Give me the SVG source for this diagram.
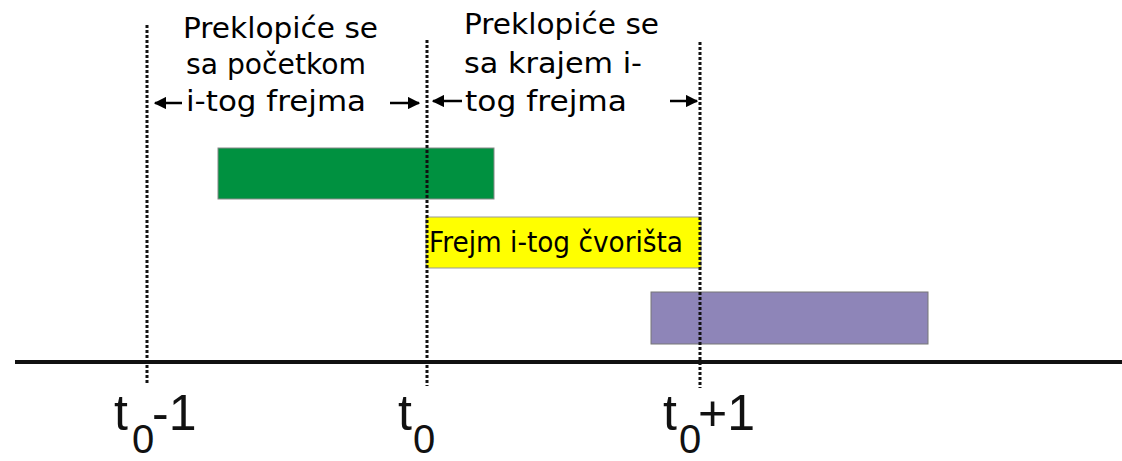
<svg xmlns="http://www.w3.org/2000/svg" width="1122" height="461" viewBox="0 0 1122 461">
<defs>
<style>
.lbl{font-family:"DejaVu Sans","Liberation Sans",sans-serif;font-size:28px;fill:#000}
.ax{font-family:"Liberation Sans","DejaVu Sans",sans-serif;font-size:50px;fill:#111}
.sub{font-family:"Liberation Sans","DejaVu Sans",sans-serif;font-size:40px;fill:#111}
.dot{stroke:#111;stroke-width:3;stroke-dasharray:3 2;fill:none}
.arr{stroke:#000;stroke-width:2.5;fill:none}
</style>
<marker id="ah" viewBox="0 0 10 10" refX="9" refY="5" markerWidth="5" markerHeight="5" orient="auto-start-reverse" markerUnits="strokeWidth">
<path d="M0,0 L10,5 L0,10 z" fill="#000"/>
</marker>
</defs>
<rect width="1122" height="461" fill="#fff"/>
<g id="axis">
<line x1="15" y1="362" x2="1122" y2="362" stroke="#111" stroke-width="4"/>
</g>
<g id="frame-prev">
<rect x="218" y="148" width="276" height="51" fill="#009140" stroke="#888" stroke-width="1"/>
</g>
<g id="frame-i">
<rect x="426" y="217" width="275" height="51" fill="#ffff00" stroke="#999" stroke-width="1"/>
<text class="lbl" x="429" y="252" font-size="22" textLength="254" lengthAdjust="spacingAndGlyphs">Frejm i-tog čvorišta</text>
</g>
<g id="frame-next">
<rect x="651" y="292" width="277" height="52" fill="#8e85b8" stroke="#777" stroke-width="1"/>
</g>
<g id="connectors">
<line class="dot" x1="147" y1="25" x2="147" y2="383"/>
<line class="dot" x1="427" y1="40" x2="427" y2="386"/>
<line class="dot" x1="700" y1="42" x2="700" y2="388"/>
<line class="arr" x1="182" y1="103" x2="155" y2="103" marker-end="url(#ah)"/>
<line class="arr" x1="390" y1="103" x2="419" y2="103" marker-end="url(#ah)"/>
<line class="arr" x1="462" y1="101" x2="433" y2="101" marker-end="url(#ah)"/>
<line class="arr" x1="670" y1="101" x2="697" y2="101" marker-end="url(#ah)"/>
</g>
<g id="label-left">
<text class="lbl" x="183" y="38" textLength="195" lengthAdjust="spacingAndGlyphs">Preklopiće se</text>
<text class="lbl" x="186" y="74" textLength="180" lengthAdjust="spacingAndGlyphs">sa početkom</text>
<text class="lbl" x="186" y="111" textLength="180" lengthAdjust="spacingAndGlyphs">i-tog frejma</text>
</g>
<g id="label-right">
<text class="lbl" x="464" y="34" textLength="195" lengthAdjust="spacingAndGlyphs">Preklopiće se</text>
<text class="lbl" x="464" y="73" textLength="178" lengthAdjust="spacingAndGlyphs">sa krajem i-</text>
<text class="lbl" x="465" y="111" textLength="162" lengthAdjust="spacingAndGlyphs">tog frejma</text>
</g>
<g id="tick-labels">
<text class="ax" x="114" y="430">t</text>
<text class="sub" x="132" y="453">0</text>
<text class="ax" x="152" y="430">-1</text>
<text class="ax" x="398" y="430">t</text>
<text class="sub" x="413" y="453">0</text>
<text class="ax" x="663" y="430">t</text>
<text class="sub" x="679" y="453">0</text>
<text class="ax" x="698" y="430">+1</text>
</g>
</svg>
